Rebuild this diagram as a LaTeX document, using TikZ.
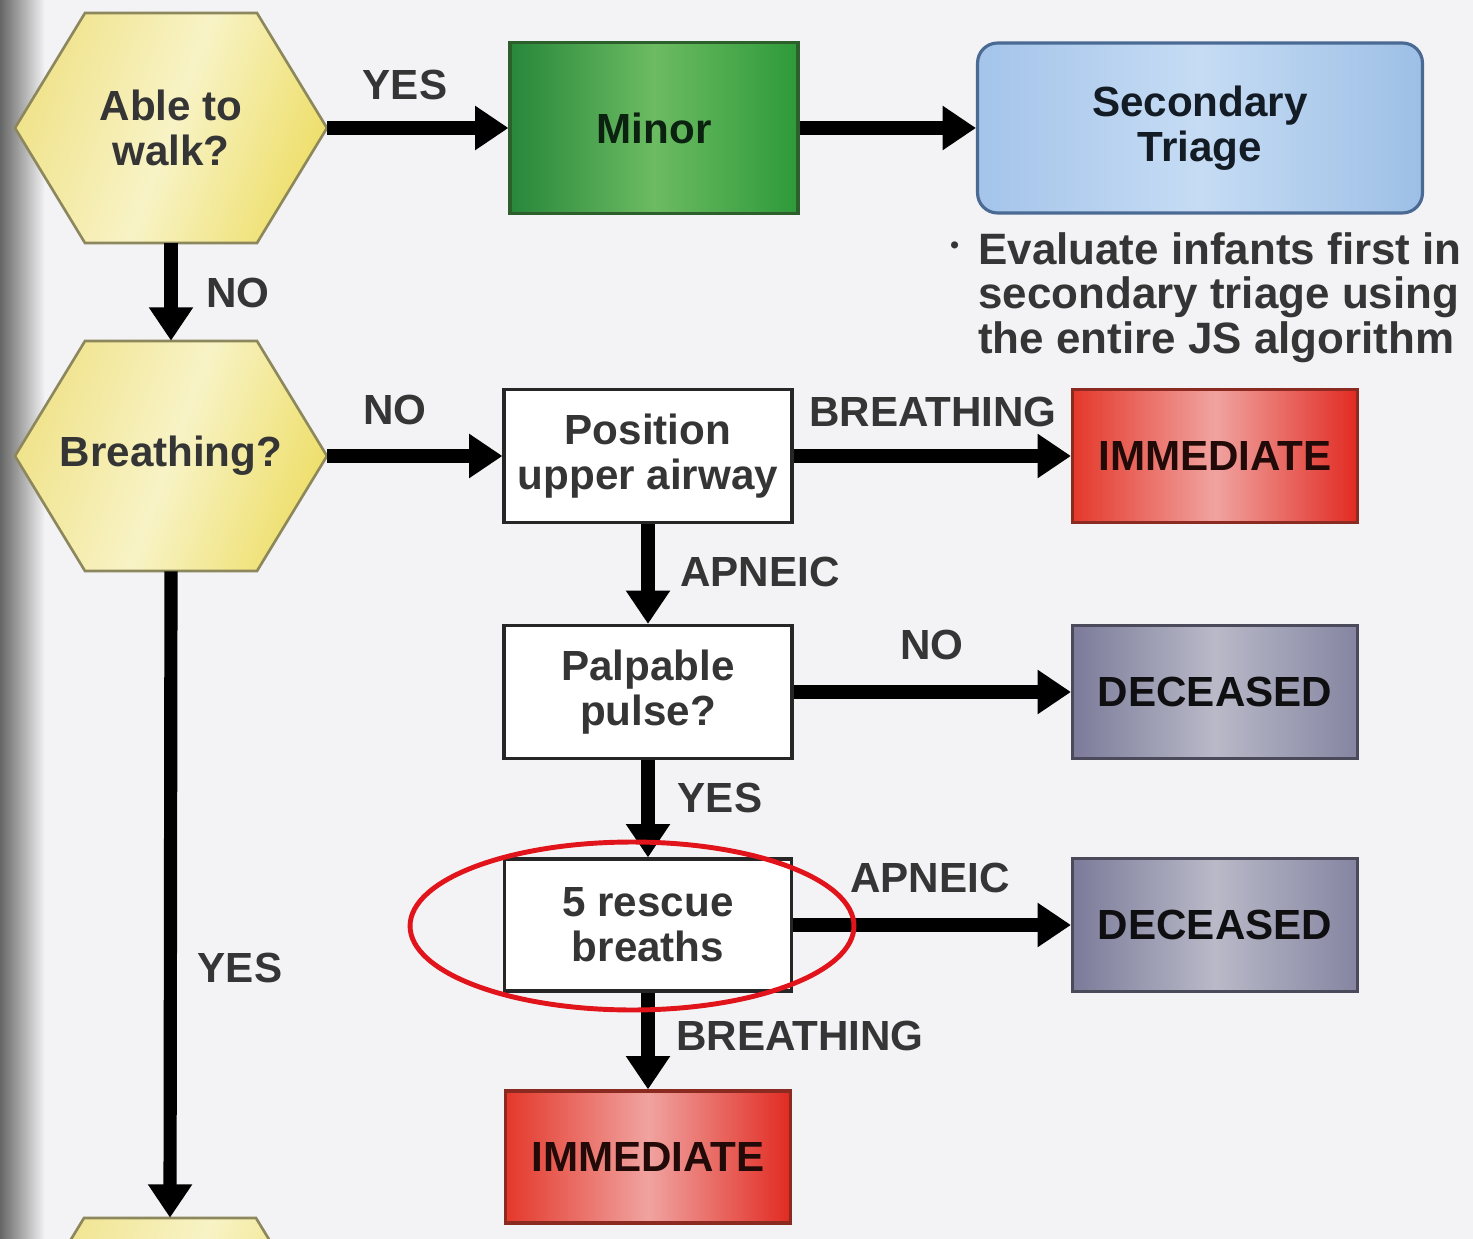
\documentclass[tikz,border=0pt]{standalone}
\usepackage{fontspec}
\setmainfont{Liberation Sans}
\usetikzlibrary{arrows.meta,shapes.geometric}
\definecolor{bgc}{HTML}{F3F3F5}
\definecolor{txt}{HTML}{353535}
\definecolor{hexA}{HTML}{F0E38C}
\definecolor{hexB}{HTML}{F8F3C6}
\definecolor{hexC}{HTML}{EEDF6C}
\definecolor{hexL}{HTML}{8C875C}
\definecolor{grA}{HTML}{27873A}
\definecolor{grB}{HTML}{6CBB62}
\definecolor{grC}{HTML}{2D9A3A}
\definecolor{grL}{HTML}{2C5F2C}
\definecolor{blA}{HTML}{A4C4EA}
\definecolor{blB}{HTML}{C6DCF4}
\definecolor{blC}{HTML}{9DBFE6}
\definecolor{blL}{HTML}{4A6A94}
\definecolor{rdA}{HTML}{E4382A}
\definecolor{rdB}{HTML}{F0A3A0}
\definecolor{rdC}{HTML}{E12B22}
\definecolor{rdL}{HTML}{8A2A20}
\definecolor{dcA}{HTML}{7B7B9A}
\definecolor{dcB}{HTML}{B9B9C8}
\definecolor{dcC}{HTML}{8585A2}
\definecolor{dcL}{HTML}{4A4A5A}
\definecolor{ered}{HTML}{E0141A}
\begin{document}
\begin{tikzpicture}[x=0.02cm,y=-0.02cm,
  font=\bfseries\fontsize{24}{25.5}\selectfont, text=txt,
  hexfill/.style={draw=hexL, line width=1.5pt, left color=hexA, right color=hexC, middle color=hexB, shading angle=70},
  hexshape/.pic={\draw[hexfill] (-156,0) -- (-86,-115) -- (86,-115) -- (156,0) -- (86,115) -- (-86,115) -- cycle;},
  hextext/.style={inner sep=0pt, minimum width=6.24cm, minimum height=4.6cm, align=center},
  box/.style={rectangle, draw=black!85, line width=1.8pt, minimum width=5.76cm, minimum height=2.66cm, align=center, inner sep=0pt},
  minorbox/.style={box, draw=grL, left color=grA, right color=grC, middle color=grB, minimum height=3.42cm, text=black!75!grA},
  secbox/.style={box, draw=blL, left color=blA, right color=blC, middle color=blB, rounded corners=0.4cm, minimum width=8.9cm, minimum height=3.4cm, text=black!75!blL},
  immbox/.style={box, draw=rdL, left color=rdA, right color=rdC, middle color=rdB, minimum width=5.7cm, text=black!75!rdL},
  decbox/.style={box, draw=dcL, left color=dcA, right color=dcC, middle color=dcB, minimum width=5.7cm, text=black!80!dcL},
  whitebox/.style={box, fill=white},
  arr/.style={line width=7.5pt, black, -{Triangle[width=24pt,length=19pt]}},
  lbl/.style={inner sep=0pt, text=txt}]
\useasboundingbox (0,0) rectangle (1473,1239);
\clip (0,0) rectangle (1473,1239);
\fill[bgc] (0,0) rectangle (1473,1239);
\shade[left color=black!60, right color=bgc] (0,0) rectangle (45,1239);

% hexagons
\pic at (171,128) {hexshape};
\pic at (171,456) {hexshape};
\pic at (170,1333) {hexshape};
\node[hextext] (walk) at (171,128) {Able to\\walk?};
\node[hextext] (breath) at (171,456) {Breathing?};
\node[hextext] (hex3) at (170,1333) {};

% boxes
\node[minorbox] (minor) at (654,128) {Minor};
\node[secbox] (sec) at (1200,128) {Secondary\\Triage};
\node[whitebox] (pos) at (648,456) {Position\\upper airway};
\node[immbox] (imm1) at (1215,456) {IMMEDIATE};
\node[whitebox] (palp) at (648,692) {Palpable\\pulse?};
\node[decbox] (dec1) at (1215,692) {DECEASED};
\node[whitebox, minimum width=5.74cm, minimum height=2.64cm] (resc) at (648,925) {5 rescue\\breaths};
\node[decbox] (dec2) at (1215,925) {DECEASED};
\node[immbox, minimum height=2.64cm] (imm2) at (648,1157) {IMMEDIATE};

% note
\node[inner sep=0pt, anchor=north west, align=left, font=\bfseries\fontsize{25}{25.5}\selectfont, text=txt] (note) at (978,232)
  {\llap{\raisebox{6pt}{\fontsize{14}{14}\selectfont\textbullet}\hspace{11pt}}Evaluate infants first in\\secondary triage using\\the entire JS algorithm};

% connectors
\draw[arr] (walk.east) -- (minor.west);
\draw[arr] (minor.east) -- (sec.west);
\draw[arr] (walk.south) -- (breath.north);
\draw[arr] (breath.east) -- (pos.west);
\draw[arr] (pos.east) -- (imm1.west);
\draw[arr] (pos.south) -- (palp.north);
\draw[arr] (palp.east) -- (dec1.west);
\draw[arr] (palp.south) -- (resc.north);
\draw[arr] (resc.east) -- (dec2.west);
\draw[arr] (resc.south) -- (imm2.north);
\draw[arr] (breath.south) -- (hex3.north);

% labels
\node[lbl] (lyes1) at (405,85) {YES};
\node[lbl] (lno1) at (238,293) {NO};
\node[lbl] (lno2) at (395,410) {NO};
\node[lbl] (lbr1) at (933,412) {BREATHING};
\node[lbl] (lap1) at (760,572) {APNEIC};
\node[lbl] (lno3) at (932,645) {NO};
\node[lbl] (lyes2) at (720,798) {YES};
\node[lbl] (lap2) at (930,878) {APNEIC};
\node[lbl] (lbr2) at (800,1036) {BREATHING};
\node[lbl] (lyes3) at (240,968) {YES};

% red highlight ring
\node[draw=ered, line width=2.8pt, ellipse, minimum width=8.88cm, minimum height=3.36cm, inner sep=0pt] (ring) at (632,926) {};
\end{tikzpicture}
\end{document}
